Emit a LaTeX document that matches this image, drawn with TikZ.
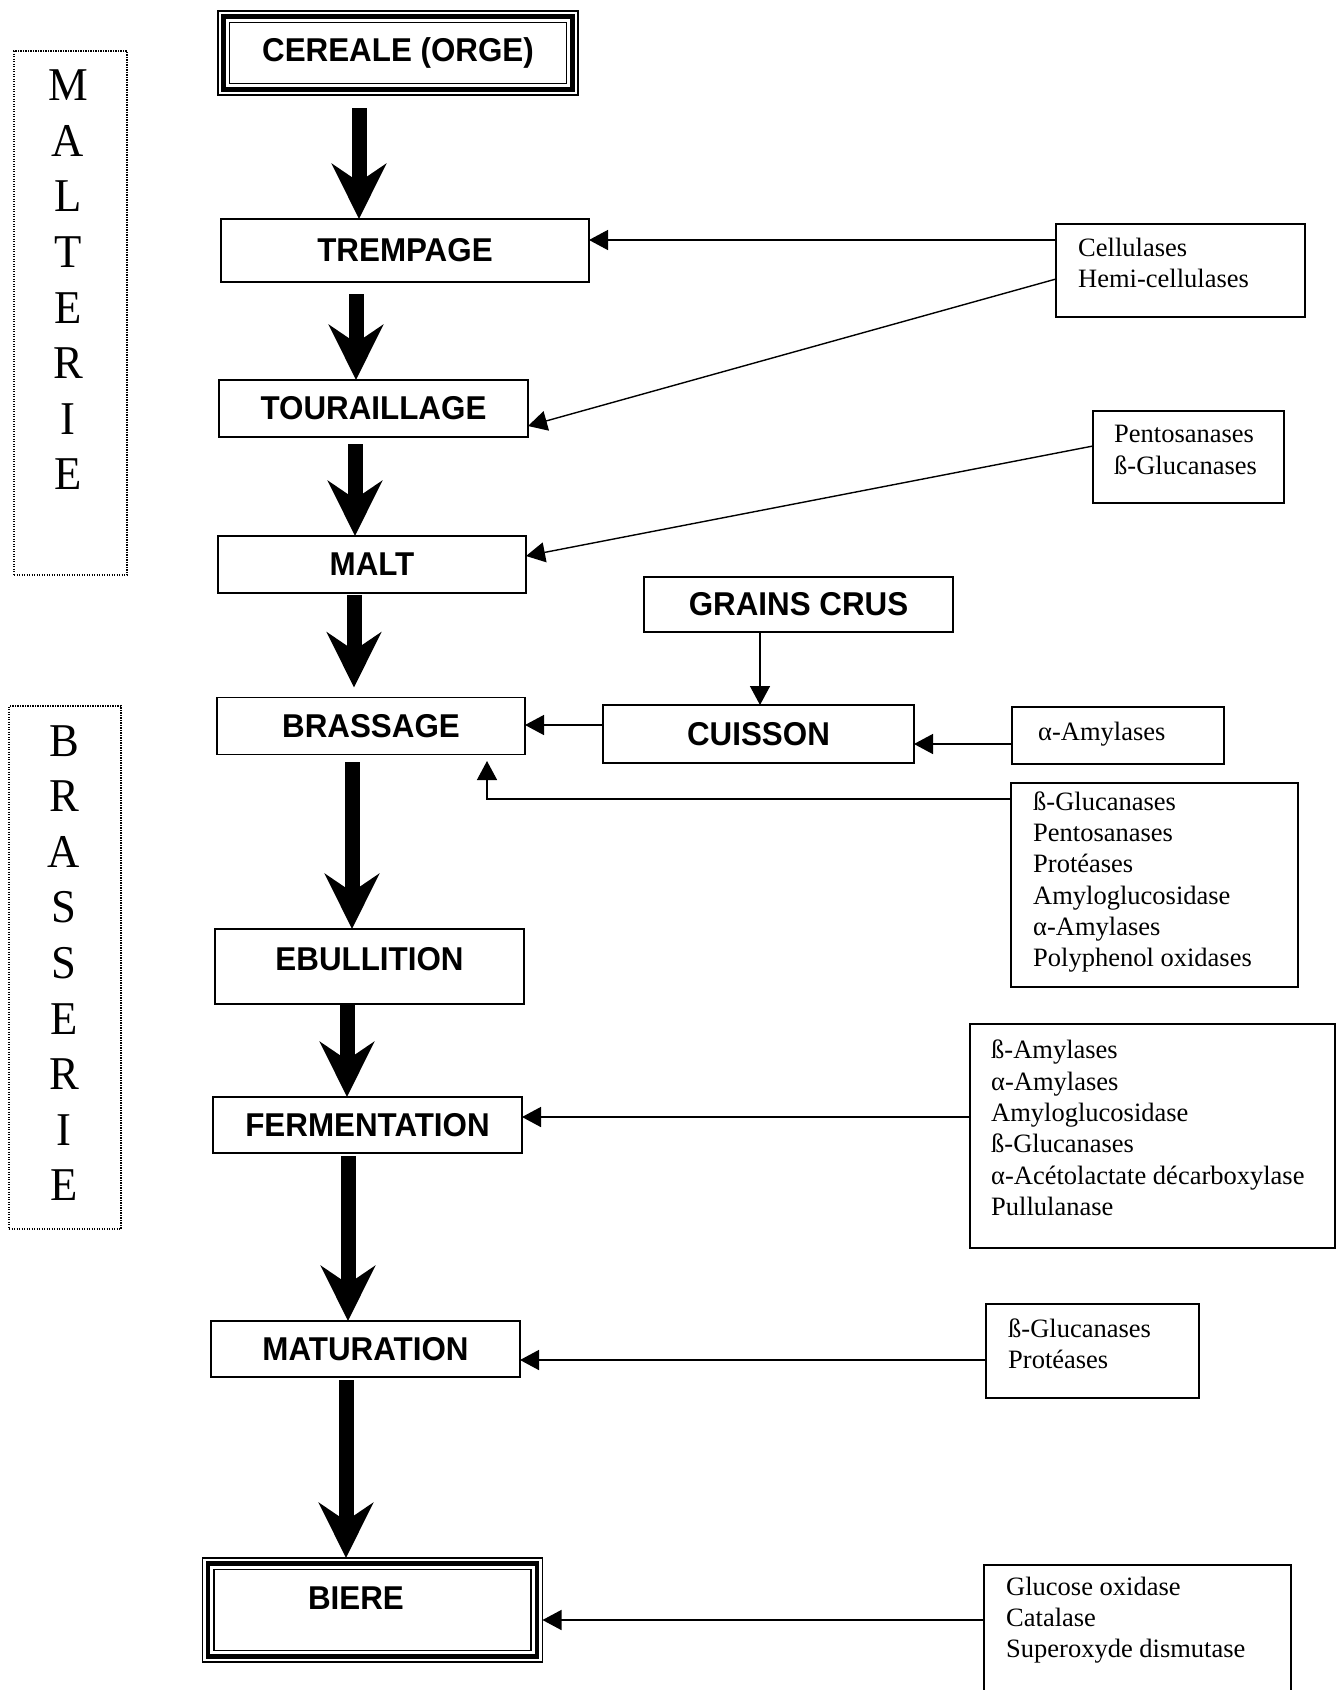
\documentclass[tikz,border=0pt]{standalone}
\usepackage{fontspec}
\setmainfont{Liberation Serif}
\newfontfamily\boxfont[FakeStretch=0.95]{Liberation Sans Bold}
\newfontfamily\enzfont{Liberation Serif}
\newfontfamily\sidefont[FakeStretch=0.95]{Liberation Serif}
\usetikzlibrary{arrows.meta,calc}
\begin{document}
\begin{tikzpicture}[x=1pt,y=-1pt,
  mainbox/.style={draw, line width=1.4pt, inner sep=0pt, outer sep=0pt, font=\boxfont\fontsize{33}{38}\selectfont},
  boxtext/.style={inner sep=0pt, font=\boxfont\fontsize{33}{38}\selectfont},
  enzbox/.style={draw, line width=1.3pt, inner sep=0pt, outer sep=0pt},
  enztext/.style={inner sep=0pt, anchor=west, align=left, font=\enzfont\fontsize{26.5}{31.3}\selectfont},
  sidebox/.style={draw, line width=1.2pt, dash pattern=on 1.2pt off 1.3pt, inner sep=0pt},
  sidetext/.style={inner sep=0pt, align=center, font=\sidefont\fontsize{47}{55.6}\selectfont},
  bigarrow/.style={line width=15pt, -{Stealth[length=55pt,width=54pt,inset=18pt]}},
  thinarrow/.style={line width=1.4pt, -{Triangle[length=19pt,width=20pt]}},
  thinline/.style={line width=1.4pt}
]
\useasboundingbox (0,0) rectangle (1339,1690);
\fill[white] (0,0) rectangle (1339,1690);

% side labels
\node[sidebox, minimum width=113pt, minimum height=524pt] (malterie) at (70.5,313) {};
\node[sidetext] (malterietext) at (68,280) {M\\A\\L\\T\\E\\R\\I\\E};
\node[sidebox, minimum width=112pt, minimum height=523pt] (brasserie) at (65,967.5) {};
\node[sidetext] (brasserietext) at (64,963) {B\\R\\A\\S\\S\\E\\R\\I\\E};

% main boxes
\node[mainbox, line width=1.2pt, minimum width=360pt, minimum height=84pt] (cereale) at (398,53) {CEREALE (ORGE)};
\draw[line width=4.5pt] ([shift={(5.5pt,-5.5pt)}]cereale.north west) rectangle ([shift={(-5.5pt,5.5pt)}]cereale.south east);
\draw[line width=1.3pt] ([shift={(11.5pt,-11.5pt)}]cereale.north west) rectangle ([shift={(-11.5pt,11.5pt)}]cereale.south east);

\node[mainbox, minimum width=368pt, minimum height=63pt] (trempage) at (405,250.5) {TREMPAGE};
\node[mainbox, minimum width=309pt, minimum height=57pt] (touraillage) at (373.5,408.5) {TOURAILLAGE};
\node[mainbox, minimum width=308pt, minimum height=57pt] (malt) at (372,564.5) {MALT};
\node[mainbox, minimum width=308pt, minimum height=57pt] (brassage) at (371,726) {BRASSAGE};
\node[mainbox, minimum width=309pt, minimum height=75pt] (ebullition) at (369.5,966.5) {};
\node[boxtext] (ebulltext) at (369.5,959) {EBULLITION};
\node[mainbox, minimum width=309pt, minimum height=56pt] (fermentation) at (367.5,1125) {FERMENTATION};
\node[mainbox, minimum width=309pt, minimum height=56pt] (maturation) at (365.5,1349) {MATURATION};

\node[mainbox, line width=1.2pt, minimum width=340pt, minimum height=104pt] (biere) at (372.5,1610) {};
\draw[line width=4.5pt] ([shift={(5.5pt,-5.5pt)}]biere.north west) rectangle ([shift={(-5.5pt,5.5pt)}]biere.south east);
\draw[line width=1.3pt] ([shift={(11.5pt,-11.5pt)}]biere.north west) rectangle ([shift={(-11.5pt,11.5pt)}]biere.south east);
\node[boxtext] (bieretext) at (356,1598) {BIERE};

\node[mainbox, minimum width=309pt, minimum height=55pt] (grains) at (798.5,604.5) {GRAINS CRUS};
\node[mainbox, minimum width=311pt, minimum height=58pt] (cuisson) at (758.5,734) {CUISSON};

% enzyme boxes
\node[enzbox, minimum width=249pt, minimum height=93pt] (cell) at (1180.5,270.5) {};
\node[enztext] (celltext) at (1078,263) {Cellulases\\Hemi-cellulases};
\node[enzbox, minimum width=191pt, minimum height=92pt] (pento) at (1188.5,457) {};
\node[enztext] (pentotext) at (1114,450) {Pentosanases\\ß-Glucanases};
\node[enzbox, minimum width=212pt, minimum height=57pt] (amyl) at (1118,735.5) {};
\node[enztext] (amyltext) at (1038,734) {α-Amylases};
\node[enzbox, minimum width=287pt, minimum height=204pt] (brenz) at (1154.5,885) {};
\node[enztext] (brenztext) at (1033,882) {ß-Glucanases\\Pentosanases\\Protéases\\Amyloglucosidase\\α-Amylases\\Polyphenol oxidases};
\node[enzbox, minimum width=365pt, minimum height=224pt] (ferenz) at (1152.5,1136) {};
\node[enztext] (ferenztext) at (991,1128) {ß-Amylases\\α-Amylases\\Amyloglucosidase\\ß-Glucanases\\α-Acétolactate décarboxylase\\Pullulanase};
\node[enzbox, minimum width=213pt, minimum height=94pt] (matenz) at (1092.5,1351) {};
\node[enztext] (matenztext) at (1008,1344) {ß-Glucanases\\Protéases};
\node[enzbox, minimum width=307pt, minimum height=155pt] (bienz) at (1137.5,1642.5) {};
\node[enztext] (bienztext) at (1006,1620) {Glucose oxidase\\Catalase\\Superoxyde dismutase};

% thick arrows
\coordinate (a1) at ($(cereale.south)+(-39,13)$);
\draw[bigarrow] (a1) -- (a1 |- trempage.north);
\coordinate (a2) at ($(trempage.south)+(-49,12)$);
\draw[bigarrow] (a2) -- (a2 |- touraillage.north);
\coordinate (a3) at ($(touraillage.south)+(-18.5,7)$);
\draw[bigarrow] (a3) -- (a3 |- malt.north);
\coordinate (a4) at ($(malt.south)+(-18,2)$);
\draw[bigarrow, shorten >=10pt] (a4) -- (a4 |- brassage.north);
\coordinate (a5) at ($(brassage.south)+(-19,7.5)$);
\draw[bigarrow] (a5) -- (a5 |- ebullition.north);
\coordinate (a6) at ($(ebullition.south)+(-22.5,1)$);
\draw[bigarrow] (a6) -- (a6 |- fermentation.north);
\coordinate (a7) at ($(fermentation.south)+(-19.5,3)$);
\draw[bigarrow] (a7) -- (a7 |- maturation.north);
\coordinate (a8) at ($(maturation.south)+(-19.5,3)$);
\draw[bigarrow] (a8) -- (a8 |- biere.north);

% thin connectors
\coordinate (t1) at ($(cell.west)+(0,-30.5)$);
\draw[thinarrow] (t1) -- (t1 -| trempage.east);
\draw[thinarrow] ($(cell.west)+(0,8.5)$) -- ($(touraillage.east)+(0,17.5)$);
\draw[thinarrow] ($(pento.west)+(0,-11)$) -- ($(malt.east)+(0,-8.5)$);
\coordinate (t4) at ($(grains.south)+(-38.5,0)$);
\draw[thinarrow] (t4) -- (t4 |- cuisson.north);
\coordinate (t5) at ($(cuisson.west)+(0,-9)$);
\draw[thinarrow] (t5) -- (t5 -| brassage.east);
\coordinate (t6) at ($(amyl.west)+(0,8.5)$);
\draw[thinarrow] (t6) -- (t6 -| cuisson.east);
\coordinate (t7) at ($(brenz.west)+(0,-86)$);
\draw[thinarrow] (t7) -| ($(brassage.south east)+(-38,6.5)$);
\coordinate (t8) at ($(ferenz.west)+(0,-19)$);
\draw[thinarrow] (t8) -- (t8 -| fermentation.east);
\coordinate (t9) at ($(matenz.west)+(0,9)$);
\draw[thinarrow] (t9) -- (t9 -| maturation.east);
\coordinate (t10) at ($(bienz.west)+(0,-22.5)$);
\draw[thinarrow] (t10) -- (t10 -| biere.east);
\end{tikzpicture}
\end{document}
